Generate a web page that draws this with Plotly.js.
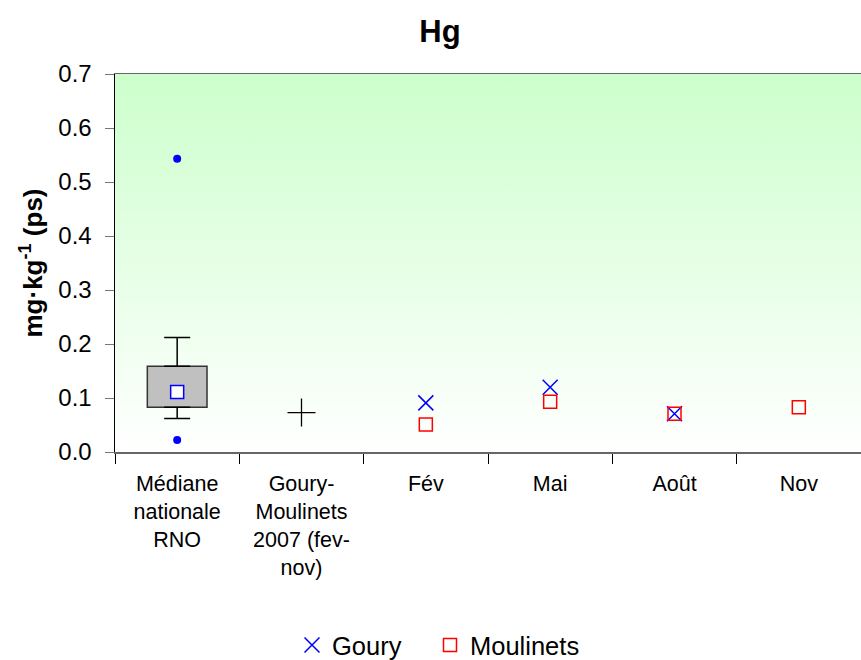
<!DOCTYPE html>
<html><head><meta charset="utf-8">
<script src="https://cdn.plot.ly/plotly-3.0.1.min.js"></script>
<style>html,body{margin:0;padding:0;background:#fff}#chart{width:861px;height:660px}</style>
</head><body><div id="chart"></div>
<script>
const categories = ['Médiane<br>nationale<br>RNO', 'Goury-<br>Moulinets<br>2007 (fev-<br>nov)', 'Fév', 'Mai', 'Août', 'Nov'];
// national reference box (RNO)
const rnoQ1 = [0.083];
const rnoQ3 = [0.159];
const rnoMedian = [0.111];
const rnoLowerWhisker = [0.062];
const rnoUpperWhisker = [0.212];
const rnoOutliers = [0.543, 0.022];
// 2007 Goury-Moulinets mean
const mean2007 = [0.073];
// series
const gouryCats = ['Fév', 'Mai', 'Août'];
const gouryValues = [0.091, 0.120, 0.071];
const moulinetsCats = ['Fév', 'Mai', 'Août', 'Nov'];
const moulinetsValues = [0.051, 0.093, 0.071, 0.083];
const yTicks = [0, 0.1, 0.2, 0.3, 0.4, 0.5, 0.6, 0.7];

const font = 'Liberation Sans, Arial, sans-serif';
const rnoCat = [categories[0]];

const traces = [
  { type: 'bar', x: rnoCat, base: rnoQ1, y: rnoQ3.map((v, i) => v - rnoQ1[i]), width: 0.48,
    marker: { color: '#C0C0C0', line: { color: '#333333', width: 1.5 } }, showlegend: false, hoverinfo: 'skip' },
  { type: 'scatter', mode: 'markers', x: rnoCat, y: rnoQ3, marker: { size: 1, opacity: 0 }, showlegend: false, hoverinfo: 'skip',
    error_y: { type: 'data', symmetric: false, array: rnoUpperWhisker.map((v, i) => v - rnoQ3[i]), arrayminus: [0], width: 13, thickness: 1.5, color: '#000' } },
  { type: 'scatter', mode: 'markers', x: rnoCat, y: rnoQ1, marker: { size: 1, opacity: 0 }, showlegend: false, hoverinfo: 'skip',
    error_y: { type: 'data', symmetric: false, array: [0], arrayminus: rnoQ1.map((v, i) => v - rnoLowerWhisker[i]), width: 13, thickness: 1.5, color: '#000' } },
  { type: 'scatter', mode: 'markers', x: rnoOutliers.map(() => categories[0]), y: rnoOutliers,
    marker: { symbol: 'circle', size: 8, color: '#0000FF' }, showlegend: false },
  { type: 'scatter', mode: 'markers', x: rnoCat, y: rnoMedian,
    marker: { symbol: 'square', size: 13, color: '#FFFFFF', line: { color: '#0000FF', width: 1.5 } }, showlegend: false },
  { type: 'scatter', mode: 'markers', x: [categories[1]], y: mean2007,
    marker: { symbol: 'cross-thin-open', size: 20, color: '#000', line: { color: '#000', width: 1.3 } }, showlegend: false },
  { type: 'scatter', mode: 'markers', name: 'Goury', x: gouryCats, y: gouryValues, legend: 'legend',
    marker: { symbol: 'x-thin-open', size: 15, color: '#0000FF', line: { color: '#0000FF', width: 1.5 } } },
  { type: 'scatter', mode: 'markers', name: 'Moulinets', x: moulinetsCats, y: moulinetsValues, legend: 'legend2',
    marker: { symbol: 'square-open', size: 13, color: '#FF0000', line: { color: '#FF0000', width: 1.5 } } }
];

const grad = "data:image/svg+xml;utf8," + encodeURIComponent(
  '<svg xmlns="http://www.w3.org/2000/svg" width="10" height="100" preserveAspectRatio="none"><defs><linearGradient id="g" x1="0" y1="0" x2="0" y2="1"><stop offset="0" stop-color="#CCFFCC"/><stop offset="1" stop-color="#FFFFFF"/></linearGradient></defs><rect width="10" height="100" fill="url(#g)"/></svg>');

const legendBase = { orientation: 'h', xref: 'container', yref: 'container', xanchor: 'left', y: 0.022, yanchor: 'middle',
  font: { size: 25.5, family: font }, itemwidth: 30, bgcolor: 'rgba(0,0,0,0)' };

const layout = {
  width: 861, height: 660,
  margin: { l: 115, r: 0, t: 74, b: 208 },
  paper_bgcolor: '#FFFFFF', plot_bgcolor: 'rgba(0,0,0,0)',
  font: { family: font, color: '#000' },
  title: { text: '<b>Hg</b>', font: { size: 31, family: font }, x: 0.511, xanchor: 'center', y: 0.953, yanchor: 'middle' },
  images: [{ source: grad, xref: 'paper', yref: 'paper', x: 0, y: 1, sizex: 1, sizey: 1, sizing: 'stretch', layer: 'below' }],
  xaxis: { type: 'category', categoryorder: 'array', categoryarray: categories, range: [-0.5, 5.5],
    tickson: 'boundaries', ticks: 'outside', ticklen: 10, tickcolor: '#000', showgrid: false, ticklabelstandoff: 12,
    showline: true, linecolor: '#666', linewidth: 1.5, mirror: true, tickfont: { size: 21.5, family: font }, fixedrange: true },
  yaxis: { range: [0, 0.7], tickvals: yTicks, tickformat: '.1f', ticks: 'outside', ticklen: 9, tickcolor: '#777',
    showgrid: false, zeroline: false, showline: true, linecolor: '#000', linewidth: 1.5, ticklabelstandoff: 8,
    tickfont: { size: 24, family: font },
    title: { text: '<b>mg·kg<sup>-1</sup> (ps)</b>', font: { size: 26, family: font }, standoff: 8 } },
  bargap: 0,
  showlegend: true,
  legend: Object.assign({}, legendBase, { x: 292 / 861 }),
  legend2: Object.assign({}, legendBase, { x: 430 / 861 })
};
Plotly.newPlot('chart', traces, layout, { displayModeBar: false, staticPlot: true });
</script></body></html>
